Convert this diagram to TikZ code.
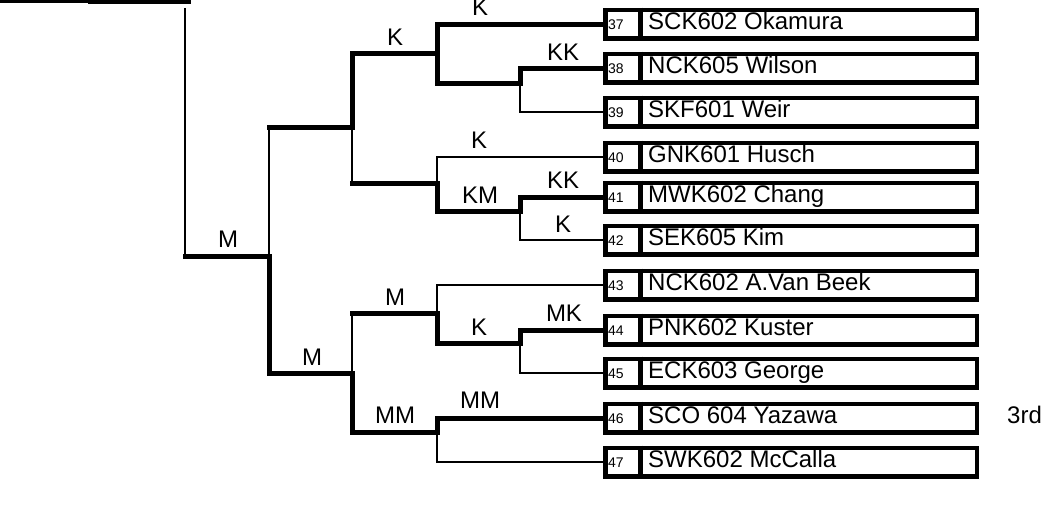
\documentclass[tikz,border=0pt]{standalone}
\usepackage{fontspec}
\setmainfont{Liberation Sans}
\begin{document}
\begin{tikzpicture}[x=1pt,y=-1pt,
  thinline/.style={line width=2.2pt, line cap=rect},
  thickline/.style={line width=5pt, line cap=rect},
  entrybox/.style={draw, rectangle, line width=4.5pt, minimum width=371.5pt, minimum height=28.5pt, inner sep=0pt},
  divider/.style={line width=4.5pt},
  numtext/.style={font=\fontsize{14}{16}\selectfont, inner sep=0pt, anchor=base west},
  nametext/.style={font=\fontsize{24}{28}\selectfont, inner sep=0pt, anchor=base west},
  lab/.style={font=\fontsize{24}{28}\selectfont, inner sep=0pt, anchor=base}]
\useasboundingbox (0,0) rectangle (1057,522);

% entry boxes
\foreach \n/\y/\nm in {37/24/SCK602 Okamura, 38/68/NCK605 Wilson, 39/112/SKF601 Weir,
  40/157/GNK601 Husch, 41/197/MWK602 Chang, 42/240/SEK605 Kim, 43/285/NCK602 A.Van Beek,
  44/330/PNK602 Kuster, 45/373/ECK603 George, 46/418/SCO 604 Yazawa, 47/462/SWK602 McCalla} {
  \node[entrybox] (b\n) at (791,\y) {};
  \draw[divider] ([xshift=37.25pt]b\n.north west) -- ([xshift=37.25pt]b\n.south west);
  \node[numtext] (n\n) at (608,\y+5) {\n};
  \node[nametext] (t\n) at (648,\y+5) {\nm};
}
\node[nametext] (third) at (1007,423) {3rd};

% junction coordinates
\coordinate (j1) at (520,83);
\coordinate (j2) at (437,53);
\coordinate (j3) at (520,211);
\coordinate (j4) at (437,183);
\coordinate (j5) at (352,127);
\coordinate (j6) at (520,343);
\coordinate (j7) at (437,313);
\coordinate (j8) at (437,432);
\coordinate (j9) at (352,373);
\coordinate (j10) at (269,256);
\coordinate (j11) at (185,256);
\coordinate (t1) at (185,9);
\coordinate (a0) at (0,1.5);
\coordinate (a1) at (90,1.5);
\coordinate (a3) at (188,1.5);

% upper half
\draw[thickline] (b38.west) -| (j1);
\draw[thinline] (b39.west) -| (j1);
\draw[thickline] (j1) -| (j2);
\draw[thickline] (b37.west) -| (j2);
\draw[thickline] (j2) -| (j5);
\draw[thickline] (b41.west) -| (j3);
\draw[thinline] (b42.west) -| (j3);
\draw[thickline] (j3) -| (j4);
\draw[thinline] (b40.west) -| (j4);
\draw[thickline] (j4) -- (j4 -| j5);
\draw[thinline] (j4 -| j5) -- (j5);
\draw[thickline] (j5) -- (j5 -| j10);
\draw[thinline] (j5 -| j10) -- (j10);

% lower half
\draw[thickline] (b44.west) -| (j6);
\draw[thinline] (b45.west) -| (j6);
\draw[thickline] (j6) -| (j7);
\draw[thinline] (b43.west) -| (j7);
\draw[thickline] (j7) -- (j7 -| j9);
\draw[thinline] (j7 -| j9) -- (j9);
\draw[thickline] (b46.west) -| (j8);
\draw[thinline] (b47.west) -| (j8);
\draw[thickline] (j8) -| (j9);
\draw[thickline] (j9) -| (j10);
\draw[thickline] (j10) -- (j11);
\draw[thinline] (j11) -- (t1);

% top left
\draw[thinline] (a0) -- (a1);
\draw[thickline] (a1) -- (a3);

% labels
\node[lab] (l1) at (480,15) {K};
\node[lab] (l2) at (395,45) {K};
\node[lab] (l3) at (563,60) {KK};
\node[lab] (l4) at (479,148) {K};
\node[lab] (l5) at (563,188) {KK};
\node[lab] (l6) at (480,203) {KM};
\node[lab] (l7) at (563,232) {K};
\node[lab] (l8) at (228,247) {M};
\node[lab] (l9) at (395,305) {M};
\node[lab] (l10) at (564,321) {MK};
\node[lab] (l11) at (479,335) {K};
\node[lab] (l12) at (312,365) {M};
\node[lab] (l13) at (480,408) {MM};
\node[lab] (l14) at (395,423) {MM};
\end{tikzpicture}
\end{document}
